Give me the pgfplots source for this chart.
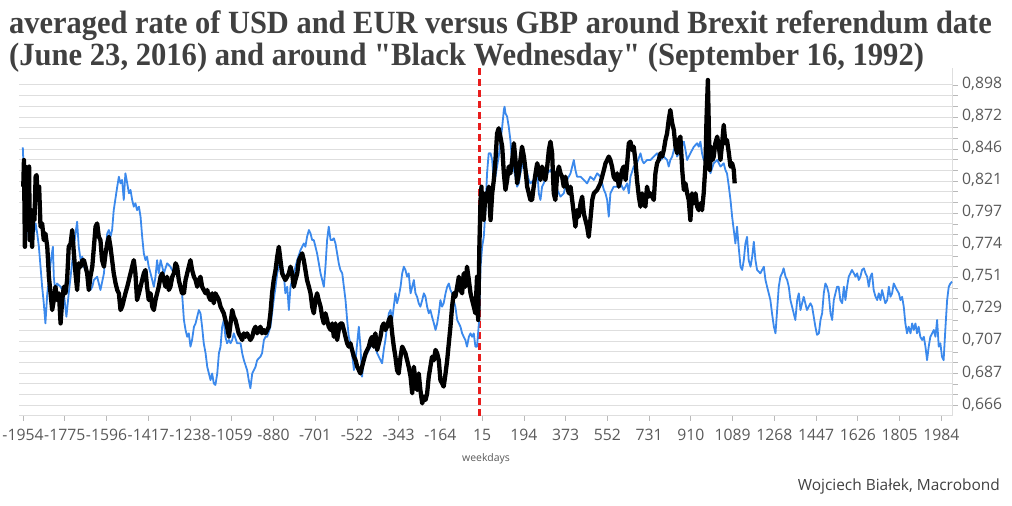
\documentclass[border=0pt]{standalone}
\usepackage{fontspec}
\setmainfont{Open Sans}
\newfontfamily\titlefont{Liberation Serif}
\usepackage{pgfplots}
\pgfplotsset{compat=1.18}
\definecolor{blueline}{RGB}{59,137,236}
\definecolor{redline}{RGB}{232,28,28}
\definecolor{gridgray}{RGB}{222,222,222}
\definecolor{labelgray}{RGB}{89,89,89}
\definecolor{titlegray}{RGB}{64,64,64}
\begin{document}
\begin{tikzpicture}[x=1bp,y=1bp]
\useasboundingbox (0,0) rectangle (1012,506);
\node[anchor=base west, inner sep=0, text=titlegray, font=\titlefont\bfseries\fontsize{32.5}{36}\selectfont] at (9,472) {\scalebox{0.94}[1]{averaged rate of USD and EUR versus GBP around Brexit referendum date}};
\node[anchor=base west, inner sep=0, text=titlegray, font=\titlefont\bfseries\fontsize{32.5}{36}\selectfont] at (9,440) {\scalebox{0.945}[1]{(June 23, 2016) and around "Black Wednesday" (September 16, 1992)}};
\node[anchor=base east, inner sep=0, text=titlegray, font=\fontsize{15.5}{18}\selectfont] at (1000,15) {Wojciech Białek, Macrobond};
\begin{axis}[
 at={(19.3bp,90bp)}, anchor=south west, scale only axis,
 width=933.4bp, height=348bp,
 xmin=-1970, xmax=2033, ymode=log, ymin=0.6598, ymax=0.9125,
 axis x line*=bottom, axis y line*=right,
 axis line style={draw=gridgray, line width=1bp},
 xtick={-1954,-1775,-1596,-1417,-1238,-1059,-880,-701,-522,-343,-164,15,194,373,552,731,910,1089,1268,1447,1626,1805,1984},
 xticklabels={-1954,-1775,-1596,-1417,-1238,-1059,-880,-701,-522,-343,-164,15,194,373,552,731,910,1089,1268,1447,1626,1805,1984},
 ytick={0.66638,0.68658,0.70738,0.72882,0.75090,0.77365,0.79709,0.82124,0.84613,0.87176,0.89818},
 yticklabels={{0,666},{0,687},{0,707},{0,729},{0,751},{0,774},{0,797},{0,821},{0,846},{0,872},{0,898}},
 minor ytick={0.88929,0.88048,0.86313,0.85459,0.83775,0.82946,0.81311,0.80506,0.78920,0.78138,0.76599,0.75840,0.74346,0.73611,0.72160,0.71445,0.70038,0.69345,0.67978,0.67305},
 ymajorgrids, yminorgrids,
 major grid style={draw=gridgray, line width=1bp},
 minor grid style={draw=gridgray, line width=1bp},
 tick align=outside, major tick length=5bp, minor tick length=5bp,
 tick style={draw=gray!55, line width=0.8bp},
 tick label style={font=\fontsize{15.8}{18}\selectfont, text=labelgray},
 xticklabel style={yshift=-5bp},
 yticklabel style={xshift=1bp, yshift=1bp},
 xlabel={weekdays}, xlabel style={font=\fontsize{10.5}{12}\selectfont, text=labelgray, yshift=-6bp},
]
\addplot[redline, line width=3bp, dash pattern=on 7bp off 4bp] coordinates {(2,0.6598) (2,0.9125)};
\addplot[blueline, line width=1.8bp, line join=round] coordinates {
(-1955,0.8475) (-1950,0.8246) (-1943,0.8069) (-1936,0.7945) (-1929,0.7774) (-1922,0.7871) (-1915,0.7726) (-1908,0.7822) (-1900,0.7896) (-1893,0.7822) (-1886,0.7726) (-1879,0.7583) (-1872,0.7443) (-1865,0.7329) (-1858,0.7193) (-1850,0.7397) (-1843,0.7490) (-1836,0.7607) (-1826,0.7726) (-1822,0.7513) (-1815,0.7397) (-1808,0.7466) (-1793,0.7443) (-1779,0.7397) (-1768,0.7238) (-1758,0.7397) (-1750,0.7513) (-1736,0.7726) (-1729,0.7822) (-1722,0.7908) (-1715,0.7726) (-1707,0.7630) (-1700,0.7654) (-1693,0.7583) (-1679,0.7536) (-1665,0.7420) (-1657,0.7443) (-1650,0.7490) (-1636,0.7513) (-1622,0.7420) (-1607,0.7536) (-1593,0.7822) (-1586,0.7847) (-1579,0.7798) (-1572,0.7847) (-1565,0.7994) (-1550,0.8170) (-1543,0.8246) (-1536,0.8195) (-1529,0.8221) (-1522,0.8069) (-1515,0.8272) (-1507,0.8195) (-1500,0.8119) (-1493,0.8145) (-1486,0.8069) (-1479,0.8019) (-1472,0.8044) (-1465,0.7994) (-1457,0.8019) (-1450,0.7945) (-1443,0.7798) (-1436,0.7678) (-1429,0.7630) (-1422,0.7654) (-1415,0.7583) (-1407,0.7536) (-1393,0.7443) (-1386,0.7513) (-1379,0.7630) (-1372,0.7536) (-1364,0.7630) (-1357,0.7583) (-1350,0.7536) (-1336,0.7607) (-1322,0.7583) (-1307,0.7536) (-1293,0.7583) (-1272,0.7397) (-1264,0.7216) (-1257,0.7149) (-1250,0.7104) (-1243,0.7127) (-1236,0.7039) (-1229,0.7083) (-1221,0.7171) (-1214,0.7193) (-1207,0.7238) (-1200,0.7283) (-1193,0.7261) (-1186,0.7171) (-1179,0.7061) (-1171,0.6995) (-1164,0.6908) (-1157,0.6865) (-1150,0.6823) (-1143,0.6865) (-1136,0.6802) (-1129,0.6792) (-1121,0.6865) (-1114,0.6995) (-1107,0.7039) (-1100,0.7171) (-1093,0.7216) (-1086,0.7104) (-1079,0.7061) (-1071,0.7083) (-1064,0.7061) (-1057,0.7083) (-1050,0.7127) (-1036,0.7061) (-1021,0.7061) (-1014,0.6995) (-1007,0.6951) (-993,0.6887) (-986,0.6823) (-979,0.6771) (-971,0.6865) (-964,0.6887) (-957,0.6908) (-950,0.6951) (-936,0.6973) (-929,0.6995) (-921,0.7083) (-914,0.7104) (-907,0.7104) (-893,0.7171) (-886,0.7261) (-879,0.7351) (-871,0.7443) (-864,0.7536) (-850,0.7630) (-836,0.7536) (-829,0.7397) (-821,0.7443) (-814,0.7283) (-807,0.7443) (-793,0.7536) (-778,0.7630) (-764,0.7702) (-750,0.7750) (-743,0.7726) (-736,0.7798) (-728,0.7847) (-721,0.7822) (-714,0.7774) (-707,0.7774) (-693,0.7678) (-678,0.7536) (-671,0.7490) (-664,0.7443) (-657,0.7583) (-650,0.7774) (-643,0.7871) (-635,0.7774) (-628,0.7774) (-621,0.7786) (-614,0.7750) (-607,0.7678) (-600,0.7607) (-593,0.7560) (-585,0.7536) (-578,0.7443) (-571,0.7351) (-564,0.7216) (-557,0.7104) (-550,0.7061) (-543,0.6995) (-535,0.6887) (-528,0.6951) (-521,0.7061) (-514,0.7171) (-507,0.7039) (-500,0.6844) (-493,0.6951) (-478,0.6995) (-464,0.7039) (-450,0.7061) (-435,0.6995) (-421,0.6951) (-414,0.6930) (-407,0.7017) (-400,0.7083) (-393,0.7171) (-385,0.7261) (-378,0.7283) (-371,0.7216) (-364,0.7306) (-357,0.7397) (-350,0.7329) (-343,0.7374) (-335,0.7443) (-328,0.7536) (-321,0.7583) (-314,0.7560) (-307,0.7513) (-300,0.7536) (-292,0.7397) (-285,0.7443) (-278,0.7490) (-271,0.7397) (-264,0.7374) (-257,0.7329) (-250,0.7306) (-242,0.7351) (-235,0.7397) (-228,0.7374) (-221,0.7306) (-214,0.7261) (-207,0.7283) (-200,0.7238) (-192,0.7193) (-185,0.7149) (-178,0.7193) (-171,0.7261) (-164,0.7351) (-157,0.7306) (-150,0.7329) (-142,0.7397) (-135,0.7443) (-128,0.7466) (-121,0.7420) (-114,0.7397) (-107,0.7351) (-100,0.7306) (-92,0.7216) (-85,0.7193) (-78,0.7171) (-71,0.7127) (-64,0.7104) (-57,0.7083) (-50,0.7039) (-42,0.7104) (-35,0.7127) (-28,0.7104) (-21,0.7127) (-14,0.7039) (-7,0.7039) (1,0.7193) (8,0.7583) (15,0.7726) (22,0.7798) (29,0.7994) (36,0.8272) (43,0.8428) (51,0.8428) (58,0.8375) (65,0.8195) (72,0.8246) (79,0.8324) (86,0.8402) (93,0.8507) (101,0.8640) (108,0.8775) (111,0.8802) (115,0.8748) (122,0.8721) (129,0.8640) (136,0.8533) (144,0.8350) (151,0.8298) (158,0.8246) (165,0.8170) (172,0.8195) (179,0.8272) (186,0.8324) (194,0.8375) (201,0.8324) (208,0.8272) (215,0.8221) (222,0.8195) (236,0.8221) (244,0.8298) (251,0.8298) (258,0.8119) (265,0.8069) (272,0.8170) (279,0.8195) (294,0.8272) (308,0.8298) (322,0.8246) (337,0.8145) (351,0.8094) (365,0.8119) (379,0.8221) (394,0.8272) (401,0.8324) (408,0.8375) (415,0.8298) (422,0.8246) (437,0.8246) (451,0.8221) (465,0.8195) (479,0.8246) (494,0.8221) (508,0.8272) (522,0.8246) (537,0.8145) (544,0.8119) (551,0.8069) (558,0.7945) (565,0.8119) (579,0.8170) (594,0.8170) (608,0.8195) (622,0.8145) (637,0.8195) (644,0.8119) (651,0.8246) (665,0.8324) (679,0.8350) (694,0.8428) (701,0.8375) (708,0.8350) (722,0.8375) (737,0.8375) (751,0.8402) (765,0.8428) (780,0.8375) (794,0.8402) (808,0.8375) (815,0.8324) (822,0.8375) (830,0.8402) (837,0.8454) (844,0.8480) (851,0.8402) (865,0.8454) (880,0.8520) (887,0.8454) (894,0.8375) (901,0.8402) (908,0.8428) (923,0.8480) (937,0.8507) (944,0.8480) (951,0.8520) (958,0.8428) (965,0.8375) (980,0.8402) (994,0.8272) (1008,0.8350) (1023,0.8375) (1037,0.8324) (1051,0.8350) (1058,0.8298) (1065,0.8272) (1073,0.8170) (1080,0.8069) (1087,0.7945) (1094,0.7847) (1101,0.7750) (1108,0.7871) (1115,0.7726) (1123,0.7583) (1130,0.7560) (1137,0.7630) (1144,0.7750) (1151,0.7798) (1158,0.7630) (1166,0.7583) (1173,0.7654) (1180,0.7762) (1187,0.7630) (1194,0.7560) (1208,0.7536) (1223,0.7583) (1230,0.7490) (1237,0.7443) (1244,0.7397) (1251,0.7351) (1258,0.7261) (1266,0.7171) (1273,0.7127) (1280,0.7283) (1287,0.7443) (1294,0.7513) (1301,0.7536) (1308,0.7572) (1316,0.7513) (1323,0.7490) (1330,0.7443) (1337,0.7351) (1344,0.7306) (1351,0.7261) (1358,0.7216) (1366,0.7351) (1373,0.7397) (1380,0.7283) (1387,0.7329) (1394,0.7374) (1408,0.7283) (1423,0.7329) (1430,0.7306) (1437,0.7238) (1444,0.7171) (1451,0.7116) (1459,0.7127) (1466,0.7216) (1473,0.7261) (1480,0.7397) (1487,0.7466) (1494,0.7443) (1501,0.7397) (1509,0.7261) (1516,0.7216) (1523,0.7351) (1530,0.7397) (1537,0.7443) (1544,0.7443) (1551,0.7351) (1559,0.7329) (1566,0.7443) (1573,0.7351) (1580,0.7443) (1587,0.7513) (1594,0.7536) (1601,0.7560) (1609,0.7536) (1616,0.7513) (1623,0.7536) (1630,0.7490) (1637,0.7513) (1644,0.7560) (1652,0.7572) (1659,0.7536) (1666,0.7513) (1673,0.7443) (1680,0.7513) (1687,0.7536) (1694,0.7420) (1702,0.7374) (1709,0.7351) (1716,0.7397) (1723,0.7351) (1730,0.7420) (1737,0.7374) (1744,0.7329) (1752,0.7351) (1759,0.7443) (1766,0.7374) (1773,0.7397) (1780,0.7466) (1787,0.7443) (1794,0.7420) (1802,0.7397) (1809,0.7351) (1816,0.7374) (1823,0.7306) (1830,0.7193) (1837,0.7127) (1844,0.7171) (1852,0.7127) (1859,0.7193) (1866,0.7149) (1873,0.7193) (1880,0.7127) (1887,0.7171) (1894,0.7104) (1902,0.7083) (1909,0.7104) (1916,0.7039) (1923,0.6951) (1930,0.7039) (1937,0.7104) (1945,0.7127) (1952,0.7149) (1959,0.7104) (1966,0.7216) (1973,0.7039) (1980,0.7061) (1987,0.6973) (1994,0.6951) (2002,0.7171) (2009,0.7351) (2016,0.7443) (2023,0.7466) (2030,0.7478)
};
\addplot[black, line width=4.3bp, line join=round] coordinates {
(-1953,0.8170) (-1950,0.8375) (-1946,0.7726) (-1942,0.8324) (-1936,0.8298) (-1932,0.7847) (-1928,0.8324) (-1925,0.7774) (-1919,0.7994) (-1915,0.7726) (-1910,0.7994) (-1905,0.7920) (-1900,0.8246) (-1896,0.8259) (-1890,0.8069) (-1885,0.8170) (-1879,0.7871) (-1872,0.7896) (-1865,0.7774) (-1858,0.7822) (-1850,0.7726) (-1843,0.7513) (-1836,0.7397) (-1829,0.7283) (-1822,0.7351) (-1815,0.7443) (-1808,0.7351) (-1800,0.7397) (-1793,0.7193) (-1786,0.7351) (-1779,0.7443) (-1772,0.7397) (-1765,0.7490) (-1758,0.7726) (-1750,0.7750) (-1743,0.7847) (-1736,0.7678) (-1729,0.7536) (-1722,0.7420) (-1715,0.7607) (-1707,0.7583) (-1700,0.7630) (-1693,0.7630) (-1686,0.7583) (-1679,0.7536) (-1672,0.7420) (-1665,0.7513) (-1657,0.7583) (-1650,0.7726) (-1643,0.7871) (-1636,0.7896) (-1629,0.7798) (-1622,0.7774) (-1615,0.7630) (-1607,0.7583) (-1600,0.7678) (-1593,0.7750) (-1586,0.7798) (-1579,0.7726) (-1572,0.7630) (-1565,0.7536) (-1557,0.7466) (-1550,0.7420) (-1543,0.7397) (-1536,0.7283) (-1529,0.7306) (-1522,0.7351) (-1515,0.7397) (-1507,0.7443) (-1500,0.7490) (-1493,0.7536) (-1486,0.7583) (-1479,0.7630) (-1472,0.7536) (-1465,0.7351) (-1457,0.7397) (-1450,0.7443) (-1443,0.7490) (-1436,0.7536) (-1429,0.7560) (-1422,0.7443) (-1415,0.7351) (-1407,0.7397) (-1400,0.7306) (-1393,0.7283) (-1386,0.7351) (-1379,0.7397) (-1372,0.7443) (-1364,0.7513) (-1357,0.7536) (-1350,0.7490) (-1343,0.7443) (-1336,0.7513) (-1329,0.7420) (-1322,0.7443) (-1314,0.7513) (-1307,0.7536) (-1300,0.7607) (-1293,0.7583) (-1286,0.7490) (-1279,0.7443) (-1272,0.7397) (-1264,0.7397) (-1257,0.7490) (-1250,0.7536) (-1243,0.7583) (-1236,0.7630) (-1229,0.7560) (-1221,0.7513) (-1214,0.7490) (-1207,0.7443) (-1200,0.7490) (-1193,0.7513) (-1186,0.7443) (-1179,0.7420) (-1171,0.7397) (-1164,0.7420) (-1157,0.7374) (-1150,0.7351) (-1143,0.7397) (-1136,0.7329) (-1129,0.7397) (-1121,0.7374) (-1114,0.7351) (-1107,0.7306) (-1100,0.7283) (-1093,0.7261) (-1086,0.7216) (-1079,0.7171) (-1071,0.7104) (-1064,0.7193) (-1057,0.7283) (-1050,0.7238) (-1043,0.7216) (-1036,0.7171) (-1029,0.7127) (-1021,0.7104) (-1014,0.7083) (-1007,0.7127) (-1000,0.7104) (-993,0.7127) (-986,0.7104) (-979,0.7083) (-971,0.7104) (-964,0.7149) (-957,0.7171) (-950,0.7127) (-943,0.7149) (-936,0.7171) (-929,0.7127) (-921,0.7149) (-914,0.7127) (-907,0.7149) (-900,0.7171) (-893,0.7261) (-886,0.7397) (-879,0.7490) (-871,0.7560) (-864,0.7654) (-857,0.7726) (-850,0.7630) (-843,0.7536) (-836,0.7513) (-829,0.7490) (-821,0.7513) (-814,0.7536) (-807,0.7583) (-800,0.7536) (-793,0.7443) (-786,0.7490) (-778,0.7536) (-771,0.7630) (-764,0.7654) (-757,0.7678) (-750,0.7630) (-743,0.7560) (-736,0.7490) (-728,0.7443) (-721,0.7397) (-714,0.7306) (-707,0.7261) (-700,0.7351) (-693,0.7397) (-686,0.7351) (-678,0.7306) (-671,0.7238) (-664,0.7193) (-657,0.7261) (-650,0.7216) (-643,0.7171) (-635,0.7149) (-628,0.7193) (-621,0.7104) (-614,0.7193) (-607,0.7083) (-600,0.7149) (-593,0.7193) (-585,0.7193) (-578,0.7149) (-571,0.7104) (-564,0.7061) (-557,0.7039) (-550,0.7061) (-543,0.7017) (-535,0.6973) (-528,0.6951) (-521,0.6908) (-514,0.6887) (-507,0.6865) (-500,0.6908) (-493,0.6951) (-485,0.6995) (-478,0.7017) (-471,0.7039) (-464,0.7083) (-457,0.7104) (-450,0.7039) (-443,0.7127) (-435,0.7017) (-428,0.7061) (-421,0.7104) (-414,0.7171) (-407,0.7193) (-400,0.7149) (-393,0.7171) (-385,0.7216) (-378,0.7238) (-371,0.7127) (-364,0.7039) (-357,0.6973) (-350,0.6887) (-343,0.6865) (-335,0.6973) (-328,0.7039) (-321,0.7017) (-314,0.6995) (-307,0.6951) (-300,0.6908) (-292,0.6844) (-285,0.6739) (-278,0.6908) (-271,0.6823) (-264,0.6760) (-257,0.6865) (-250,0.6760) (-242,0.6676) (-235,0.6718) (-228,0.6697) (-221,0.6739) (-214,0.6844) (-207,0.6908) (-200,0.6973) (-192,0.6951) (-185,0.7017) (-178,0.6995) (-171,0.6951) (-164,0.6823) (-157,0.6802) (-150,0.6781) (-142,0.6865) (-135,0.6951) (-128,0.7061) (-121,0.7171) (-114,0.7306) (-107,0.7397) (-100,0.7374) (-92,0.7443) (-85,0.7513) (-78,0.7420) (-71,0.7397) (-64,0.7536) (-57,0.7443) (-50,0.7583) (-42,0.7490) (-35,0.7397) (-28,0.7351) (-21,0.7306) (-14,0.7261) (-7,0.7513) (-2,0.7216) (3,0.7726) (8,0.8069) (12,0.8170) (16,0.7945) (22,0.7920) (29,0.8119) (36,0.8094) (43,0.8170) (51,0.7920) (58,0.8119) (65,0.8221) (72,0.8375) (79,0.8586) (86,0.8627) (93,0.8560) (101,0.8480) (108,0.8272) (115,0.8145) (122,0.8221) (129,0.8324) (136,0.8272) (144,0.8375) (151,0.8507) (158,0.8375) (165,0.8195) (172,0.8272) (179,0.8375) (186,0.8480) (194,0.8402) (201,0.8298) (208,0.8170) (215,0.8119) (222,0.8069) (229,0.8069) (236,0.8170) (244,0.8272) (251,0.8350) (258,0.8298) (265,0.8221) (272,0.8324) (279,0.8272) (286,0.8221) (294,0.8324) (301,0.8454) (308,0.8520) (315,0.8428) (322,0.8119) (329,0.8069) (337,0.8272) (344,0.8324) (351,0.8272) (358,0.8246) (365,0.8170) (372,0.8246) (379,0.8170) (387,0.8119) (394,0.8170) (401,0.8069) (408,0.7970) (415,0.7871) (422,0.7994) (429,0.7945) (437,0.8044) (444,0.8094) (451,0.7970) (458,0.7920) (465,0.7871) (472,0.7798) (479,0.7920) (487,0.8069) (494,0.8119) (508,0.8145) (522,0.8195) (537,0.8298) (544,0.8350) (551,0.8375) (558,0.8402) (565,0.8375) (572,0.8324) (579,0.8246) (587,0.8221) (594,0.8272) (601,0.8170) (608,0.8221) (615,0.8298) (622,0.8324) (630,0.8221) (637,0.8350) (644,0.8507) (651,0.8520) (658,0.8454) (665,0.8480) (672,0.8375) (679,0.8221) (687,0.8094) (694,0.8019) (701,0.8119) (708,0.8044) (715,0.8019) (722,0.8170) (730,0.8094) (737,0.8119) (744,0.8094) (751,0.8069) (758,0.8272) (765,0.8350) (772,0.8375) (780,0.8428) (787,0.8402) (794,0.8454) (801,0.8533) (808,0.8586) (815,0.8694) (822,0.8775) (830,0.8667) (837,0.8613) (844,0.8480) (851,0.8428) (858,0.8533) (865,0.8560) (873,0.8298) (880,0.8145) (887,0.8195) (894,0.8119) (901,0.8069) (908,0.7920) (915,0.8119) (923,0.8044) (930,0.8119) (937,0.8019) (944,0.7994) (951,0.8044) (958,0.7994) (965,0.8119) (973,0.8350) (977,0.8694) (983,0.9024) (987,0.8640) (991,0.8298) (997,0.8480) (1003,0.8375) (1008,0.8402) (1015,0.8507) (1023,0.8560) (1030,0.8480) (1037,0.8375) (1044,0.8507) (1051,0.8654) (1058,0.8507) (1065,0.8533) (1073,0.8428) (1080,0.8324) (1087,0.8350) (1094,0.8298) (1098,0.8195)
};
\end{axis}
\end{tikzpicture}
\end{document}
